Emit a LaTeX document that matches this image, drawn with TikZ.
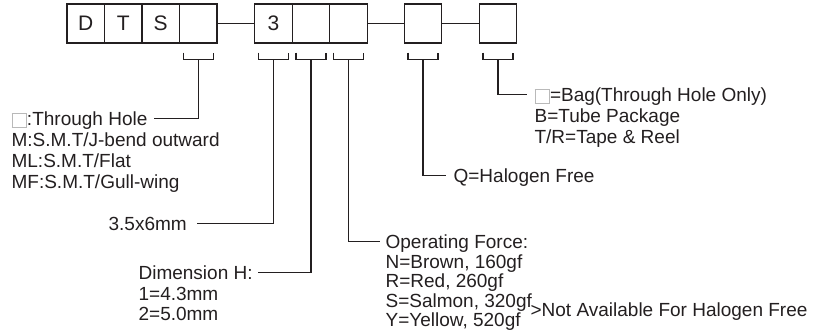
\documentclass[tikz,border=0pt]{standalone}
\usepackage{fontspec}
\setmainfont{Liberation Sans}
\usepackage{xcolor}
\usepackage{tikz}
\usetikzlibrary{calc}
\definecolor{ink}{HTML}{231F20}
\newcommand\sqmark{\raisebox{-1.5pt}{\textcolor{gray!55}{\setlength\fboxsep{0pt}\setlength\fboxrule{0.7pt}\fbox{\rule{0pt}{14pt}\rule{14pt}{0pt}}}}}

\begin{document}
\begin{tikzpicture}[x=1pt,y=-1pt,line width=1.2pt,draw=ink,
  cell/.style={draw=ink,minimum width=37.5pt,minimum height=39pt,inner sep=0pt,text=ink,font=\fontsize{21}{24}\selectfont},
  txt/.style={anchor=base west,inner sep=0pt,text=ink,font=\fontsize{19}{21}\selectfont},
  head/.style={txt,text height=15pt,text depth=0pt}]
  \useasboundingbox (0,0) rectangle (823,336);
  % part number cells
  \foreach \lab/\x [count=\i] in {D/85.75,T/123.25,S/160.75,/198.25,3/273.5,/311,/348.5,/423,/498}
  { \node[cell] (c\i) at (\x,23.5) {\lab}; }
  \draw (c4) -- (c5);
  \draw (c7) -- (c8) -- (c9);
  % brackets under the open cells
  \foreach \i in {4,...,9}
  { \draw ($(c\i.south)+(-15,9)$) -- ++(0,7) -- ++(30,0) -- ++(0,-7);
    \coordinate (s\i) at ($(c\i.south)+(0,16)$); }

  % terminal type
  \node[head] (thru) at (11,126) {\sqmark:Through Hole};
  \foreach \t [count=\k] in {M:S.M.T/J-bend outward,ML:S.M.T/Flat,MF:S.M.T/Gull-wing}
  { \node[txt] (thru\k) at (11,126+20.8*\k) {\t}; }
  % size
  \node[head] (size) at (108,231) {3.5x6mm};
  % dimension H
  \node[head] (dim) at (138,280) {Dimension H:};
  \foreach \t [count=\k] in {1=4.3mm,2=5.0mm}
  { \node[txt] (dim\k) at (138,280+20.5*\k) {\t}; }
  % operating force
  \node[head] (force) at (385,249) {Operating Force:};
  \foreach \t [count=\k] in {{N=Brown, 160gf},{R=Red, 260gf},{S=Salmon, 320gf},{Y=Yellow, 520gf}}
  { \node[txt] (force\k) at (385,249+19.5*\k) {\t}; }
  \node[txt] (nohf) at (530,317) {>Not Available For Halogen Free};
  % halogen free
  \node[head] (q) at (453,183) {Q=Halogen Free};
  % packing
  \node[head] (bag) at (534,102) {\sqmark=Bag(Through Hole Only)};
  \foreach \t [count=\k] in {B=Tube Package,T/R=Tape \& Reel}
  { \node[txt] (bag\k) at (534,102+20.8*\k) {\t}; }

  \draw (s4) |- ([xshift=6pt]thru.east);
  \draw (s5) |- ([xshift=10pt]size.east);
  \draw (s6) |- ([xshift=5pt]dim.east);
  \draw (s7) |- ([xshift=-5pt]force.west);
  \draw (s8) |- ([xshift=-7pt]q.west);
  \draw (s9) |- ([xshift=-7pt]bag.west);
\end{tikzpicture}
\end{document}
